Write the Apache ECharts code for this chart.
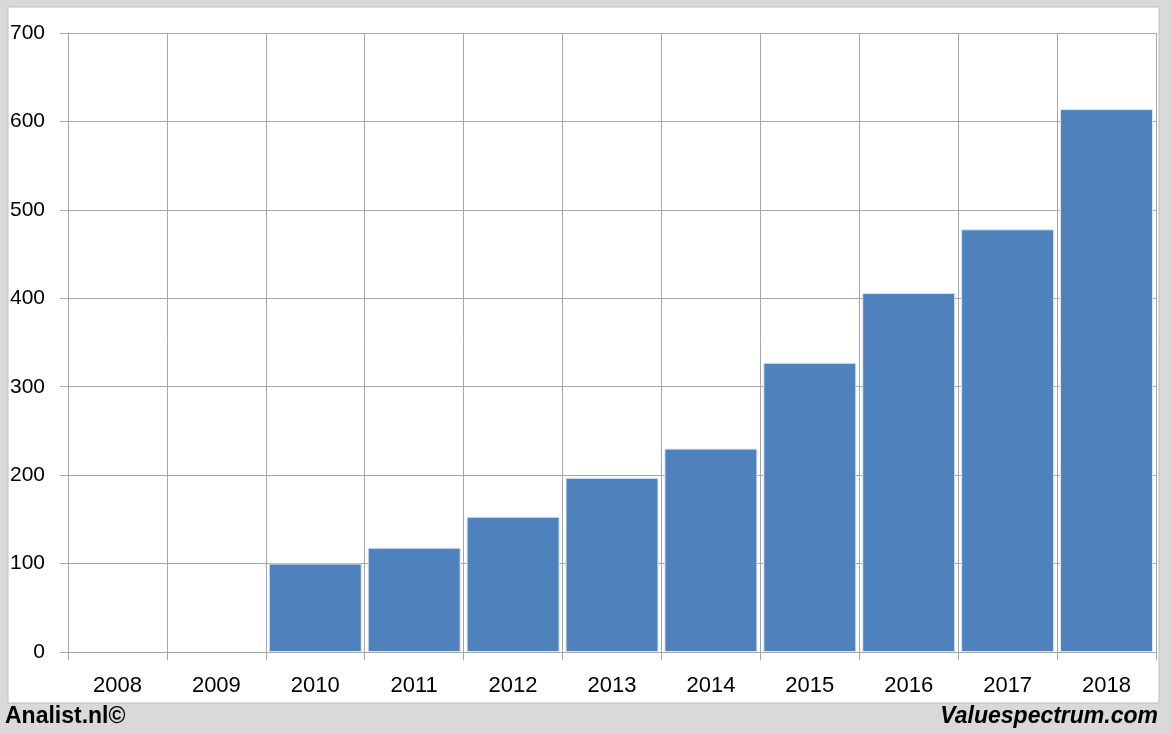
<!DOCTYPE html>
<html>
<head>
<meta charset="utf-8">
<script src="https://cdn.jsdelivr.net/npm/echarts@6/dist/echarts.min.js"></script>
<style>html,body{margin:0;padding:0;background:#d9d9d9;}#chart{width:1172px;height:734px;}</style>
</head>
<body>
<div id="chart"></div>
<script>
const categories = ['2008','2009','2010','2011','2012','2013','2014','2015','2016','2017','2018'];
const values = [null, null, 100, 118, 153, 197, 230, 327, 406, 478, 614];
const yTicks = { min: 0, max: 700, interval: 100 };
const footerLeft = 'Analist.nl©';
const footerRight = 'Valuespectrum.com';

const chart = echarts.init(document.getElementById('chart'));
const gridColor = '#a6a6a6';
const font = '"Liberation Sans", "Noto Sans", sans-serif';
chart.setOption({
  backgroundColor: '#d9d9d9',
  animation: false,
  graphic: [
    { type: 'rect', shape: { x: 8, y: 7, width: 1151, height: 696 }, style: { fill: '#ffffff', stroke: '#bfbfbf', lineWidth: 1 }, z: -10 },
    { type: 'text', left: 5, top: 705, style: { text: footerLeft, font: 'bold 23px ' + font, fill: '#000' } },
    { type: 'text', right: 14, top: 705, style: { text: footerRight, font: 'italic bold 23px ' + font, fill: '#000' } }
  ],
  grid: { left: 68, right: 16, top: 33, bottom: 82, containLabel: false },
  xAxis: {
    type: 'category',
    data: categories,
    boundaryGap: true,
    axisLine: { show: true, lineStyle: { color: gridColor } },
    axisTick: { show: true, length: 8, lineStyle: { color: gridColor } },
    splitLine: { show: true, lineStyle: { color: gridColor } },
    axisLabel: { color: '#000', fontSize: 22, fontFamily: font, margin: 23 }
  },
  yAxis: {
    type: 'value',
    min: yTicks.min, max: yTicks.max, interval: yTicks.interval,
    axisLine: { show: true, lineStyle: { color: gridColor } },
    axisTick: { show: true, length: 8, lineStyle: { color: gridColor } },
    splitLine: { show: true, lineStyle: { color: gridColor } },
    axisLabel: { color: '#000', fontSize: 21, fontFamily: font, margin: 23 }
  },
  series: [{
    type: 'bar',
    data: values,
    barCategoryGap: '6%',
    itemStyle: { color: '#4f81bd', borderColor: '#dce6f2', borderWidth: 1 }
  }]
});
</script>
</body>
</html>
